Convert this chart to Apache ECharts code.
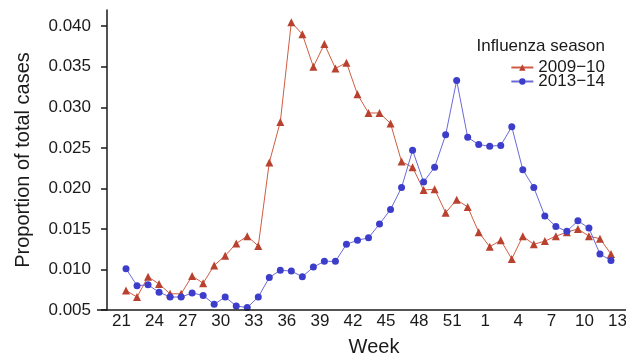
<!DOCTYPE html>
<html>
<head>
<meta charset="utf-8">
<script src="https://cdn.jsdelivr.net/npm/echarts@6/dist/echarts.min.js"></script>
<style>
  html, body { margin: 0; padding: 0; background: #ffffff; }
  #chart { width: 626px; height: 355px; }
</style>
</head>
<body>
<div id="chart"></div>
<script>
// Epidemiological weeks from week 21 to week 13 of the following year
const weeks = ['21','22','23','24','25','26','27','28','29','30','31','32','33','34','35','36','37','38','39','40',
               '41','42','43','44','45','46','47','48','49','50','51','52','53',
               '1','2','3','4','5','6','7','8','9','10','11','12','13'];

// Weekly proportion of total cases, 2009–10 season
const season2009 = [0.0074, 0.0066, 0.0091, 0.0082, 0.0070, 0.0070, 0.0092, 0.0083, 0.0105, 0.0117,
                    0.0132, 0.0141, 0.0129, 0.0232, 0.0282, 0.0405, 0.0390, 0.0350, 0.0378, 0.0348,
                    0.0355, 0.0316, 0.0293, 0.0293, 0.0280, 0.0233, 0.0226, 0.0198, 0.0199, 0.0170,
                    0.0186, 0.0177, 0.0146, 0.0128, 0.0136, 0.0113, 0.0141, 0.0131, 0.0135, 0.0141,
                    0.0146, 0.0150, 0.0141, 0.0138, 0.0119, null];

// Weekly proportion of total cases, 2013–14 season
const season2013 = [0.0101, 0.0080, 0.0081, 0.0072, 0.0066, 0.0066, 0.0071, 0.0068, 0.0057, 0.0066,
                    0.0055, 0.0053, 0.0066, 0.0090, 0.0099, 0.0098, 0.0091, 0.0103, 0.0110, 0.0110,
                    0.0131, 0.0136, 0.0139, 0.0156, 0.0174, 0.0201, 0.0247, 0.0208, 0.0226, 0.0266,
                    0.0333, 0.0263, 0.0254, 0.0252, 0.0253, 0.0276, 0.0223, 0.0201, 0.0166, 0.0153,
                    0.0147, 0.0160, 0.0151, 0.0119, 0.0111, null];

// Y axis tick values
const yTicks = [0.005, 0.010, 0.015, 0.020, 0.025, 0.030, 0.035, 0.040];

const seriesNames = ['2009−10', '2013−14'];

const FONT = '"Liberation Sans", Arial, Helvetica, sans-serif';
const INK = '#1a1a1a';

const chart = echarts.init(document.getElementById('chart'), null, { renderer: 'canvas' });

chart.setOption({
  animation: false,
  backgroundColor: '#ffffff',
  textStyle: { fontFamily: FONT },
  grid: { left: 126, right: 4, top: 10, bottom: 45, containLabel: false, outerBoundsMode: 'none' },
  title: {
    text: 'Influenza season',
    right: 16,
    top: 33,
    textStyle: { fontFamily: FONT, fontSize: 17, fontWeight: 'normal', color: INK }
  },
  legend: {
    data: seriesNames,
    orient: 'vertical',
    right: 16,
    top: 54,
    itemWidth: 22,
    itemHeight: 8,
    itemGap: -3,
    textStyle: { fontFamily: FONT, fontSize: 17, lineHeight: 14, color: INK }
  },
  xAxis: {
    type: 'category',
    data: weeks,
    boundaryGap: false,
    axisLine: { show: false },
    axisTick: { show: false },
    axisLabel: { interval: 2, fontSize: 17, color: INK, margin: 3, padding: [0, 9, 0, 0], fontFamily: FONT },
    name: 'Week',
    nameLocation: 'middle',
    nameGap: 27,
    nameTextStyle: { fontSize: 20, color: INK, fontFamily: FONT },
    splitLine: { show: false }
  },
  yAxis: {
    type: 'value',
    min: 0.005,
    max: 0.042,
    offset: 19,
    axisLine: { show: true, lineStyle: { color: INK, width: 1.5 } },
    axisTick: { show: true, length: 6, customValues: yTicks, lineStyle: { color: INK, width: 1.5 } },
    axisLabel: {
      customValues: yTicks,
      formatter: v => v.toFixed(3),
      fontSize: 17, color: INK, margin: 16, fontFamily: FONT
    },
    splitLine: { show: false },
    name: 'Proportion of total cases',
    nameLocation: 'middle',
    nameGap: 74,
    nameTextStyle: { fontSize: 20, color: INK, fontFamily: FONT }
  },
  graphic: [{
    // horizontal baseline running under the whole plot
    type: 'line',
    shape: { x1: 97, y1: 310, x2: 626, y2: 310 },
    style: { stroke: INK, lineWidth: 1.5 },
    z: 10
  }],
  series: [
    {
      name: seriesNames[0],
      type: 'line',
      data: season2009,
      symbol: 'triangle',
      symbolSize: 8,
      showSymbol: true,
      showAllSymbol: true,
      lineStyle: { color: '#d05c42', width: 1 },
      itemStyle: { color: '#b9412f' },
      z: 3
    },
    {
      name: seriesNames[1],
      type: 'line',
      data: season2013,
      symbol: 'circle',
      symbolSize: 7,
      showSymbol: true,
      showAllSymbol: true,
      lineStyle: { color: '#6a6ad8', width: 1 },
      itemStyle: { color: '#3d3dcc' },
      z: 4
    }
  ]
});
</script>
</body>
</html>
